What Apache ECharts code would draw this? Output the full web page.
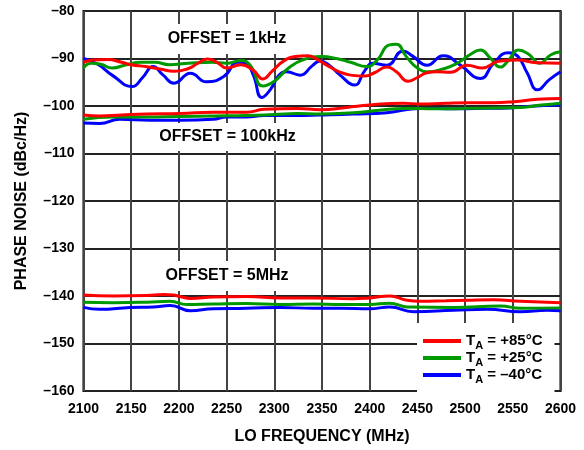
<!DOCTYPE html>
<html>
<head>
<meta charset="utf-8">
<script src="https://cdn.jsdelivr.net/npm/echarts@6/dist/echarts.min.js"></script>
<style>
  html, body { margin: 0; padding: 0; background: #fff; }
  #chart { width: 584px; height: 450px; }
</style>
</head>
<body>
<div id="chart"></div>
<script>
// axis ticks
const xTicks = [2100, 2150, 2200, 2250, 2300, 2350, 2400, 2450, 2500, 2550, 2600];
const yTicks = [-160, -150, -140, -130, -120, -110, -100, -90, -80];

const tempNames = ['+85°C', '+25°C', '\u201340°C'];

// OFFSET = 1kHz  [MHz, dBc/Hz]
const red1k = [[2100,-90.8],[2110,-90.3],[2125,-90.2],[2140,-90.8],[2150,-91.3],[2165,-91.7],[2180,-92.2],[2195,-92.7],[2210,-92.1],[2220,-91],[2230,-90.1],[2240,-90.8],[2250,-92],[2265,-91.3],[2278,-92.5],[2288,-94.3],[2298,-92.6],[2310,-90.5],[2322,-89.6],[2335,-89.4],[2345,-90.2],[2355,-91.4],[2368,-92.8],[2380,-93.5],[2395,-93.7],[2405,-93],[2418,-91.8],[2428,-92.8],[2440,-94.8],[2450,-94],[2460,-93],[2470,-92.8],[2485,-92.9],[2502,-91.4],[2518,-92],[2535,-90.6],[2555,-90.3],[2575,-90.9],[2600,-91]];
const green1k = [[2100,-92],[2108,-91],[2118,-91.2],[2130,-92],[2145,-91.3],[2160,-90.8],[2175,-90.8],[2190,-91.3],[2210,-91],[2235,-90.8],[2250,-91],[2265,-90.4],[2275,-91.5],[2288,-95.8],[2300,-94.8],[2315,-92],[2330,-90.3],[2350,-89.6],[2365,-90],[2380,-90.8],[2397,-91.7],[2408,-90.3],[2420,-87.2],[2428,-87],[2438,-89.5],[2450,-92],[2462,-92.8],[2475,-92.3],[2490,-91.2],[2505,-89.2],[2516,-88.2],[2526,-89.8],[2537,-91.8],[2545,-90.5],[2556,-88.2],[2566,-89],[2578,-91],[2590,-89.2],[2600,-88.6]];
const blue1k = [[2100,-90],[2115,-91.2],[2130,-93.5],[2151,-95.9],[2162,-94],[2173,-91.7],[2183,-93.4],[2195,-95.2],[2212,-93.1],[2229,-94.9],[2247,-93.8],[2262,-90.8],[2270,-91],[2278,-93.5],[2287,-98.2],[2296,-96.5],[2305,-93.5],[2313,-92.8],[2327,-93.5],[2340,-91.5],[2348,-90.5],[2358,-91.5],[2369,-93.5],[2384,-95.6],[2395,-92.5],[2403,-91],[2418,-91.4],[2435,-88.4],[2445,-89.5],[2460,-91.4],[2477,-89.4],[2495,-91.4],[2516,-94.2],[2530,-91],[2545,-88.8],[2555,-89.5],[2565,-93],[2576,-96.6],[2588,-94.5],[2600,-92.8]];

// OFFSET = 100kHz
const red100k = [[2100,-101.9],[2117,-102.1],[2140,-101.9],[2166,-101.7],[2201,-101.6],[2236,-101.3],[2271,-101.3],[2289,-100.7],[2324,-100.5],[2348,-100.8],[2376,-100.3],[2400,-99.8],[2435,-99.4],[2453,-99.6],[2480,-99.4],[2502,-99.3],[2530,-99.3],[2551,-99.1],[2576,-98.6],[2600,-98.4]];
const green100k = [[2100,-102.8],[2131,-102.3],[2166,-102.3],[2201,-102.2],[2236,-102.1],[2271,-102],[2300,-101.8],[2324,-101.6],[2348,-101.7],[2383,-101.4],[2410,-100.9],[2435,-100.5],[2470,-100.6],[2502,-100.5],[2530,-100.4],[2558,-100.3],[2580,-99.8],[2600,-99.4]];
const blue100k = [[2100,-103.6],[2117,-103.7],[2138,-102.8],[2170,-103],[2201,-103],[2236,-102.8],[2250,-102.3],[2271,-102.3],[2289,-102],[2324,-102],[2348,-101.9],[2383,-101.7],[2418,-101.4],[2453,-100.5],[2490,-100.6],[2523,-100.5],[2545,-100.4],[2565,-100.1],[2600,-99.8]];

// OFFSET = 5MHz
const red5m = [[2100,-139.8],[2131,-140],[2166,-139.9],[2184,-139.7],[2194,-139.8],[2201,-140.1],[2212,-140.5],[2236,-140.2],[2271,-140.1],[2306,-140.4],[2341,-140.4],[2382,-140.6],[2400,-140.4],[2421,-140],[2439,-140.9],[2453,-141.1],[2480,-141],[2502,-140.9],[2530,-140.8],[2558,-141.1],[2600,-141.4]];
const green5m = [[2100,-141.3],[2131,-141.4],[2166,-141.3],[2191,-141.1],[2208,-141.8],[2236,-141.7],[2271,-141.6],[2306,-141.8],[2341,-141.7],[2370,-141.8],[2400,-141.8],[2421,-141.5],[2439,-142.3],[2488,-142.4],[2537,-142.1],[2558,-142.6],[2600,-142.5]];
const blue5m = [[2100,-142.4],[2117,-142.8],[2149,-142.4],[2173,-142.3],[2191,-142],[2212,-143.1],[2236,-142.7],[2271,-142.6],[2306,-142.4],[2341,-142.6],[2370,-142.6],[2400,-142.7],[2421,-142.3],[2446,-143.3],[2488,-143],[2523,-142.8],[2558,-143.3],[2586,-143],[2600,-143.1]];

const offsetLabels = ['OFFSET = 1kHz', 'OFFSET = 100kHz', 'OFFSET = 5MHz'];

const FONT = '"Liberation Sans", Arial, sans-serif';
const colors = ['#ff0000', '#009900', '#0000ff'];
const groups = [[red1k, green1k, blue1k], [red100k, green100k, blue100k], [red5m, green5m, blue5m]];

const chart = echarts.init(document.getElementById('chart'));

const series = [];
groups.forEach(g => {
    g.forEach((d, i) => {
        series.push({
            name: tempNames[i],
            type: 'line',
            data: d,
            smooth: 0.5,
            symbol: 'none',
            lineStyle: { width: 3, color: colors[i] },
            itemStyle: { color: colors[i] },
            z: 5 - i
        });
    });
});

const minus = v => String(v).replace('-', '\u2013');

const option = {
    animation: false,
    grid: {
        left: 83.5, right: 23.5, top: 11, bottom: 59,
        show: true, borderColor: '#000', borderWidth: 2, backgroundColor: 'transparent'
    },
    xAxis: {
        type: 'value',
        min: xTicks[0], max: xTicks[xTicks.length - 1], interval: 50,
        name: 'LO FREQUENCY (MHz)',
        nameLocation: 'middle',
        nameGap: 38,
        nameTextStyle: { fontFamily: FONT, fontWeight: 'bold', fontSize: 16, color: '#000' },
        axisLine: { show: false },
        axisTick: { show: false },
        axisLabel: { fontFamily: FONT, fontWeight: 'bold', fontSize: 14, color: '#000', margin: 11, formatter: v => String(v) },
        splitLine: { show: true, lineStyle: { color: '#444', width: 2 } }
    },
    yAxis: {
        type: 'value',
        min: yTicks[0], max: yTicks[yTicks.length - 1], interval: 10,
        name: 'PHASE NOISE (dBc/Hz)',
        nameLocation: 'middle',
        nameGap: 54,
        nameTextStyle: { fontFamily: FONT, fontWeight: 'bold', fontSize: 16, color: '#000' },
        axisLine: { show: false },
        axisTick: { show: false },
        axisLabel: { fontFamily: FONT, fontWeight: 'bold', fontSize: 14, color: '#000', margin: 9, formatter: minus },
        splitLine: { show: true, lineStyle: { color: '#222', width: 2 } }
    },
    legend: {
        data: tempNames,
        orient: 'vertical',
        left: 417,
        top: 323,
        padding: [10, 12, 9, 6],
        backgroundColor: '#fff',
        itemWidth: 38,
        itemHeight: 4,
        itemGap: -1,
        icon: 'rect',
        formatter: n => '{t|T}{s|A}{t| = ' + n + '}',
        textStyle: {
            rich: {
                t: { fontFamily: FONT, fontWeight: 'bold', fontSize: 15, color: '#000', lineHeight: 16 },
                s: { fontFamily: FONT, fontWeight: 'bold', fontSize: 11, color: '#000', lineHeight: 16, verticalAlign: 'top', padding: [7, 0, 0, 0] }
            }
        },
        z: 20
    },
    graphic: [
        { type: 'text', x: 227, y: 39, z: 100, style: { text: offsetLabels[0], font: 'bold 16px ' + FONT, fill: '#000', align: 'center', verticalAlign: 'middle', backgroundColor: '#fff', padding: [7, 6] } },
        { type: 'text', x: 227.5, y: 137, z: 100, style: { text: offsetLabels[1], font: 'bold 16px ' + FONT, fill: '#000', align: 'center', verticalAlign: 'middle', backgroundColor: '#fff', padding: [6, 6] } },
        { type: 'text', x: 227, y: 276, z: 100, style: { text: offsetLabels[2], font: 'bold 16px ' + FONT, fill: '#000', align: 'center', verticalAlign: 'middle', backgroundColor: '#fff', padding: [7, 6] } }
    ],
    series: series
};

chart.setOption(option);
window.addEventListener('resize', () => chart.resize());
</script>
</body>
</html>
